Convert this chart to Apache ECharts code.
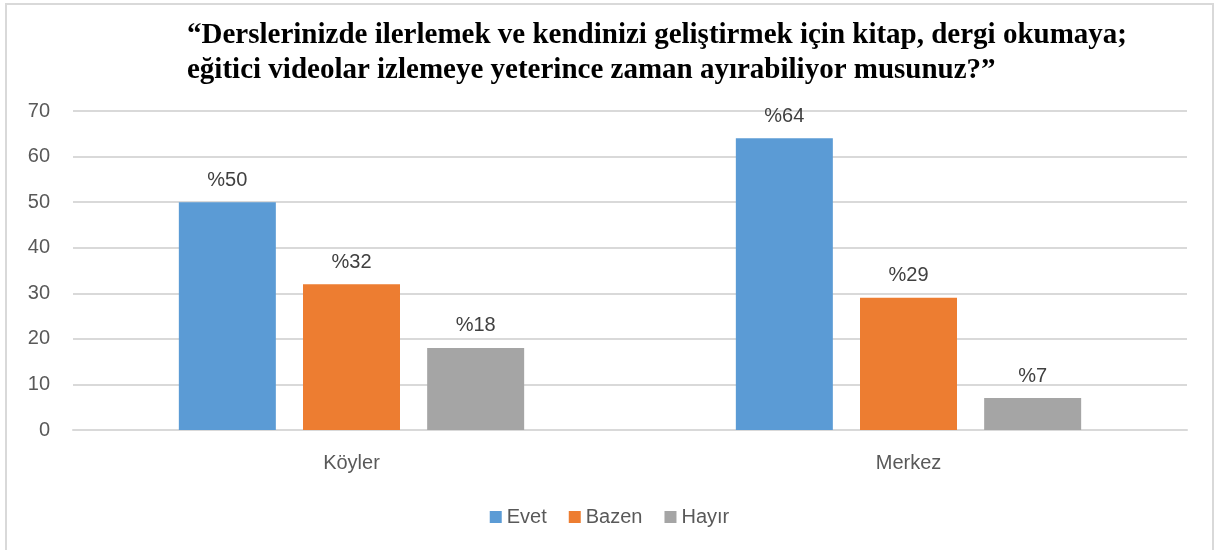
<!DOCTYPE html>
<html>
<head>
<meta charset="utf-8">
<script src="https://cdn.jsdelivr.net/npm/echarts@6/dist/echarts.min.js"></script>
<style>
  html, body { margin: 0; padding: 0; background: #fff; }
  #frame { position: absolute; left: 5px; top: 3px; width: 1209px; height: 560px; border: 2px solid #d9d9d9; box-sizing: border-box; }
  #main { position: absolute; left: 0; top: 0; width: 1219px; height: 550px; }
</style>
</head>
<body>
<div id="frame"></div>
<div id="main"></div>
<script>
// veriler
var categories = ['Köyler', 'Merkez'];
var evet = [50, 64];
var bazen = [32, 29];
var hayir = [18, 7];
var yTicks = [0, 10, 20, 30, 40, 50, 60, 70];

var myChart = echarts.init(document.getElementById('main'));

var labelStyle = {
    show: true,
    position: 'top',
    distance: 12,
    color: '#404040',
    fontSize: 20,
    fontFamily: 'Liberation Sans',
    formatter: function (p) { return '%' + p.value; }
};

myChart.setOption({
    animation: false,
    title: {
        text: '\u201cDerslerinizde ilerlemek ve kendinizi geliştirmek için kitap, dergi okumaya;\neğitici videolar izlemeye yeterince zaman ayırabiliyor musunuz?\u201d',
        left: 182,
        top: 13,
        textStyle: {
            fontFamily: 'Liberation Serif',
            fontWeight: 'bold',
            fontSize: 29,
            lineHeight: 35,
            color: '#000'
        }
    },
    legend: {
        bottom: 18,
        left: 'center',
        itemWidth: 12,
        itemHeight: 12,
        itemGap: 22,
        icon: 'rect',
        textStyle: { color: '#595959', fontSize: 20, fontFamily: 'Liberation Sans' },
        data: ['Evet', 'Bazen', 'Hayır']
    },
    grid: {
        left: 73,
        right: 32,
        top: 111,
        height: 319
    },
    xAxis: {
        type: 'category',
        data: categories,
        axisLine: { lineStyle: { color: '#d9d9d9', width: 2 } },
        axisTick: { show: false },
        axisLabel: { color: '#595959', fontSize: 20, fontFamily: 'Liberation Sans', margin: 23 }
    },
    yAxis: {
        type: 'value',
        min: yTicks[0],
        max: yTicks[yTicks.length - 1],
        interval: 10,
        axisLine: { show: false },
        axisTick: { show: false },
        splitLine: { lineStyle: { color: '#d9d9d9', width: 2 } },
        axisLabel: { color: '#595959', fontSize: 20, fontFamily: 'Liberation Sans', margin: 23 }
    },
    series: [
        { name: 'Evet', type: 'bar', data: evet, barWidth: 97, barGap: '28%', itemStyle: { color: '#5b9bd5' }, label: labelStyle },
        { name: 'Bazen', type: 'bar', data: bazen, barWidth: 97, barGap: '28%', itemStyle: { color: '#ed7d31' }, label: labelStyle },
        { name: 'Hayır', type: 'bar', data: hayir, barWidth: 97, barGap: '28%', itemStyle: { color: '#a5a5a5' }, label: labelStyle }
    ]
});
</script>
</body>
</html>
